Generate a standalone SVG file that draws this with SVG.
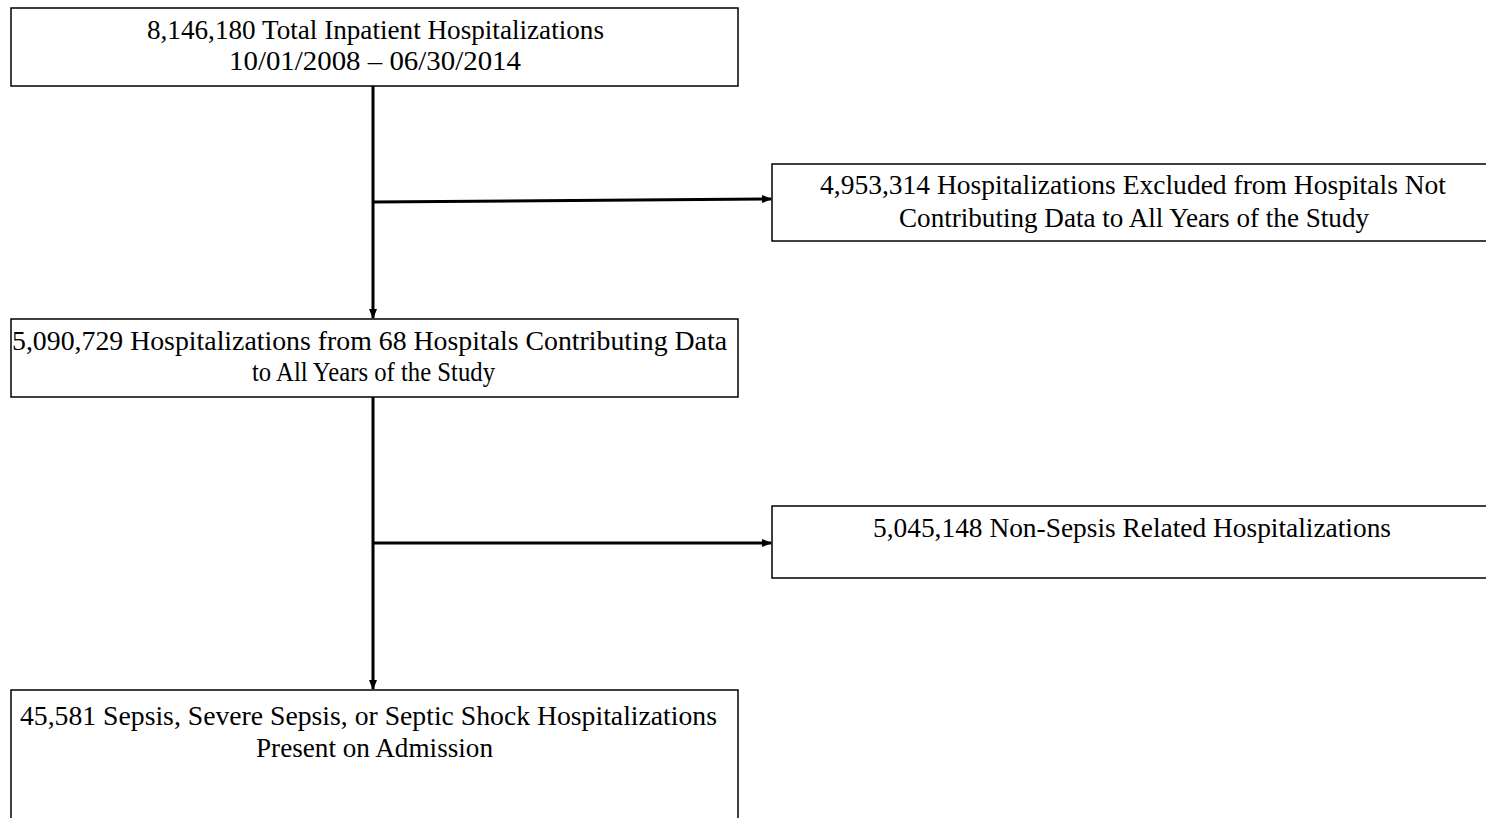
<svg xmlns="http://www.w3.org/2000/svg" width="1486" height="818" viewBox="0 0 1486 818">
<defs>
<style>
.box{fill:#fff;stroke:#000;stroke-width:1.5}
.t{font-family:"Liberation Serif","Times New Roman",serif;font-size:27px;fill:#000}
.c{stroke:#000;stroke-width:3;fill:none}
</style>
<marker id="ah" markerWidth="10" markerHeight="8" refX="9" refY="4" orient="auto" markerUnits="userSpaceOnUse">
<path d="M0,0 L10,4 L0,8 Z" fill="#000"/>
</marker>
</defs>
<rect width="1486" height="818" fill="#fff"/>
<g id="connectors">
<line class="c" x1="373" y1="86" x2="373" y2="318" marker-end="url(#ah)"/>
<line class="c" x1="373" y1="202" x2="771" y2="199" marker-end="url(#ah)"/>
<line class="c" x1="373" y1="397" x2="373" y2="689" marker-end="url(#ah)"/>
<line class="c" x1="373" y1="543" x2="771" y2="543" marker-end="url(#ah)"/>
</g>
<g id="n1">
<rect class="box" x="11" y="8" width="727" height="78"/>
<text class="t" x="147" y="38.5" textLength="457" lengthAdjust="spacingAndGlyphs">8,146,180 Total Inpatient Hospitalizations</text>
<text class="t" x="229" y="70" textLength="292" lengthAdjust="spacingAndGlyphs">10/01/2008 – 06/30/2014</text>
</g>
<g id="n2">
<rect class="box" x="772" y="164" width="720" height="77"/>
<text class="t" x="820" y="194" textLength="626" lengthAdjust="spacingAndGlyphs">4,953,314 Hospitalizations Excluded from Hospitals Not</text>
<text class="t" x="899" y="227" textLength="470" lengthAdjust="spacingAndGlyphs">Contributing Data to All Years of the Study</text>
</g>
<g id="n3">
<rect class="box" x="11" y="319" width="727" height="78"/>
<text class="t" x="12" y="349.5" textLength="715" lengthAdjust="spacingAndGlyphs">5,090,729 Hospitalizations from 68 Hospitals Contributing Data</text>
<text class="t" x="252" y="381" textLength="243" lengthAdjust="spacingAndGlyphs">to All Years of the Study</text>
</g>
<g id="n4">
<rect class="box" x="772" y="506" width="720" height="72"/>
<text class="t" x="873" y="537" textLength="518" lengthAdjust="spacingAndGlyphs">5,045,148 Non-Sepsis Related Hospitalizations</text>
</g>
<g id="n5">
<rect class="box" x="11" y="690" width="727" height="140"/>
<text class="t" x="20" y="725" textLength="697" lengthAdjust="spacingAndGlyphs">45,581 Sepsis, Severe Sepsis, or Septic Shock Hospitalizations</text>
<text class="t" x="256" y="757" textLength="237" lengthAdjust="spacingAndGlyphs">Present on Admission</text>
</g>
</svg>
